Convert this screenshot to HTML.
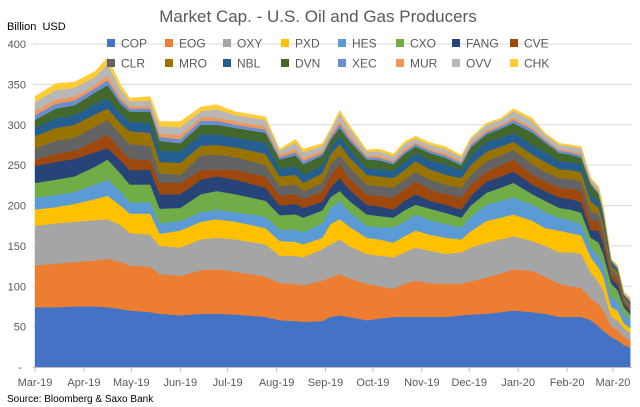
<!DOCTYPE html>
<html><head><meta charset="utf-8"><style>
html,body{margin:0;padding:0;background:#fff;}
svg{display:block;font-family:"Liberation Sans",sans-serif;}
</style></head><body>
<svg id="chart" width="640" height="407" viewBox="0 0 640 407">
<text x="318" y="22" text-anchor="middle" font-size="17" fill="#595959">Market Cap. - U.S. Oil and Gas Producers</text>
<text x="7" y="30" font-size="11" fill="#000">Billion&#160; USD</text>
<g id="grid"></g>
<g id="areas"></g>
<g id="axes"></g>
<g id="legend"></g>
<text x="7" y="402" font-size="10" fill="#000">Source: Bloomberg &amp; Saxo Bank</text>
</svg>
<script>
const dates=["2019-03-01","2019-03-14","2019-03-26","2019-04-08","2019-04-16","2019-04-24","2019-04-30","2019-05-13","2019-05-19","2019-06-01","2019-06-14","2019-06-24","2019-07-06","2019-07-25","2019-08-03","2019-08-13","2019-08-18","2019-08-30","2019-09-04","2019-09-10","2019-09-16","2019-09-27","2019-10-05","2019-10-14","2019-10-21","2019-10-28","2019-11-06","2019-11-16","2019-11-26","2019-12-02","2019-12-12","2019-12-21","2019-12-29","2020-01-10","2020-01-18","2020-01-27","2020-02-03","2020-02-10","2020-02-16","2020-02-21","2020-02-24","2020-02-29","2020-03-04","2020-03-08","2020-03-12"];
const seriesNames=["COP","EOG","OXY","PXD","HES","CXO","FANG","CVE","CLR","MRO","NBL","DVN","XEC","MUR","OVV","CHK"];
const seriesColors=["#4472C4","#ED7D31","#A5A5A5","#FFC000","#5B9BD5","#70AD47","#264478","#9E480E","#636363","#997300","#255E91","#43682B","#698ED0","#F1975A","#B7B7B7","#FFCD33"];
const COP=[74,74,75,75,74,72,70,68,66,64,66,66,65,62,58,57,56,57,62,64,62,58,60,62,62,62,62,62,64,65,66,68,70,68,66,62,62,62,58,50,45,37,33,27,24];
const EOG=[52,54,55,57,60,58,56,56,49,49,54,55,53,50,46,46,45,50,49,51,48,45,40,35,41,45,42,41,39,41,45,48,51,51,46,41,38,36,27,28,25,13,13,10,9];
const OXY=[49,50,50,50,49,46,40,40,35,35,38,39,40,40,34,35,35,39,41,43,40,37,38,39,39,41,40,37,39,42,43,42,41,37,38,39,42,42,32,27,25,12,12,11,9];
const PXD=[20,20,22,26,29,24,24,26,15,21,22,23,22,20,18,17,16,14,25,25,24,20,20,18,20,21,20,20,16,20,27,27,27,25,22,27,24,23,19,18,17,12,12,6,6];
const HES=[15,15,15,18,20,18,14,14,13,12,12,12,12,14,14,15,15,18,20,23,18,15,15,19,18,20,18,17,15,18,20,21,21,20,20,16,16,14,12,15,14,13,12,12,10];
const CXO=[18,19,19,22,25,22,22,22,18,16,22,23,22,20,18,19,18,16,13,12,14,14,14,12,14,12,14,14,12,14,15,16,18,13,14,12,13,14,12,16,14,16,13,8,7];
const FANG=[21,22,22,18,14,16,18,18,18,17,18,18,18,16,12,13,12,11,12,16,14,12,12,10,12,13,10,10,10,12,14,14,14,12,12,13,13,13,9,15,12,7,7,4,4];
const CVE=[8,10,10,14,17,14,14,12,14,14,12,9,12,14,12,12,11,13,16,17,14,13,13,15,14,16,14,13,15,14,12,14,15,12,12,12,13,14,12,12,10,6,6,3,3];
const CLR=[14,16,16,18,18,18,18,18,12,10,18,18,16,14,12,12,10,10,13,12,14,12,12,12,12,12,12,12,12,12,13,12,12,13,12,12,12,12,12,8,8,5,5,3,3];
const MRO=[15,16,16,15,14,14,16,16,14,15,12,12,12,14,12,12,10,12,12,13,12,12,12,12,12,13,13,12,12,12,12,11,10,12,12,11,11,11,12,8,7,4,4,2,2];
const NBL=[10,12,12,13,13,12,12,12,14,14,14,13,12,14,10,11,10,10,8,10,10,8,9,9,10,10,11,13,10,12,12,11,11,12,12,10,10,10,9,8,7,3,3,2,2];
const DVN=[10,12,12,14,16,12,12,14,12,10,12,12,12,12,11,13,13,12,10,10,10,11,11,8,10,8,9,8,6,10,9,11,12,15,12,10,9,8,12,9,6,3,2,1,2];
const XEC=[6,6,6,5,6,5,4,4,5,5,5,5,4,4,3,4,4,3,3,5,4,3,3,3,3,3,3,3,3,3,3,3,4,4,3,3,3,3,2,2,2,1,1,1,1];
const MUR=[5,5,5,4,6,4,3,3,4,5,4,4,4,4,3,4,4,3,3,4,4,2,3,2,3,2,2,3,2,2,3,2,3,3,2,2,2,3,2,2,1,1,1,1,1];
const OVV=[11,12,11,10,14,9,6,7,9,10,8,10,8,8,5,8,7,6,5,9,8,5,5,5,6,5,5,5,5,5,6,6,8,8,5,5,5,6,3,4,4,1,1,1,2];
const CHK=[7,8,7,7,8,6,4,5,6,7,5,6,4,4,2,4,4,3,2,4,4,2,3,3,3,3,3,3,2,2,2,2,3,3,2,2,2,2,1,2,1,0,1,1,1];
const seriesData=[COP,EOG,OXY,PXD,HES,CXO,FANG,CVE,CLR,MRO,NBL,DVN,XEC,MUR,OVV,CHK];
const yTicks=[0,50,100,150,200,250,300,350,400];
const monthTicks=["2019-03-01","2019-04-01","2019-05-01","2019-06-01","2019-07-01","2019-08-01","2019-09-01","2019-10-01","2019-11-01","2019-12-01","2020-01-01","2020-02-01","2020-03-01"];
const monthLabels=["Mar-19","Apr-19","May-19","Jun-19","Jul-19","Aug-19","Sep-19","Oct-19","Nov-19","Dec-19","Jan-20","Feb-20","Mar-20"];

const NS="http://www.w3.org/2000/svg";
const T0=Date.UTC(2019,2,1);
function dayOf(s){const p=s.split("-").map(Number);return (Date.UTC(p[0],p[1]-1,p[2])-T0)/86400000;}
function xS(s){return 35+dayOf(s)*1.579;}
function yS(v){return 367-v*0.8075;}
function mk(tag,attrs,parent){const e=document.createElementNS(NS,tag);for(const k in attrs)e.setAttribute(k,attrs[k]);parent.appendChild(e);return e;}

const grid=document.getElementById("grid");
yTicks.forEach((t,i)=>{
  if(t>0){const l=mk("line",{x1:33,x2:632,y1:yS(t),y2:yS(t),stroke:"#d9d9d9","stroke-width":1},grid);
  
  }
  const tx=mk("text",{x:t===0?22:26,y:yS(t)+4,"text-anchor":"end","font-size":11,fill:"#595959"},grid);
  tx.textContent=t===0?"-":String(t);
  
  
});

const areas=document.getElementById("areas");
const cum=dates.map(()=>0);
seriesData.forEach((vals,si)=>{
  const lower=cum.slice();
  vals.forEach((v,i)=>{cum[i]+=v;});
  let d="M"+dates.map((s,i)=>xS(s).toFixed(1)+","+yS(cum[i]).toFixed(1)).join("L");
  for(let i=dates.length-1;i>=0;i--)d+="L"+xS(dates[i]).toFixed(1)+","+yS(lower[i]).toFixed(1);
  d+="Z";
  const p=mk("path",{d:d,fill:seriesColors[si],stroke:seriesColors[si],"stroke-width":0.4},areas);
  
  
});

const axes=document.getElementById("axes");
const ax=mk("line",{x1:33,x2:632,y1:367.5,y2:367.5,stroke:"#bfbfbf","stroke-width":1},axes);


monthTicks.forEach((s,i)=>{
  const x=xS(s);
  const tk=mk("line",{x1:x,x2:x,y1:367,y2:372,stroke:"#bfbfbf","stroke-width":1},axes);
  
  
  const tx=mk("text",{x:x,y:386,"text-anchor":"middle","font-size":11,fill:"#595959"},axes);
  tx.textContent=monthLabels[i];
  
  
});

const legend=document.getElementById("legend");
const colX=[111,169,227,285,342,400,456,514];
seriesNames.forEach((n,i)=>{
  const x=colX[i%8], y=i<8?43:63;
  const g=mk("g",{},legend);
  
  
  mk("rect",{x:x-4,y:y-4,width:8,height:8,fill:seriesColors[i]},g);
  const t=mk("text",{x:x+10,y:y+4.5,"font-size":12,fill:"#595959"},g);
  t.textContent=n;
});
</script>
</body></html>
